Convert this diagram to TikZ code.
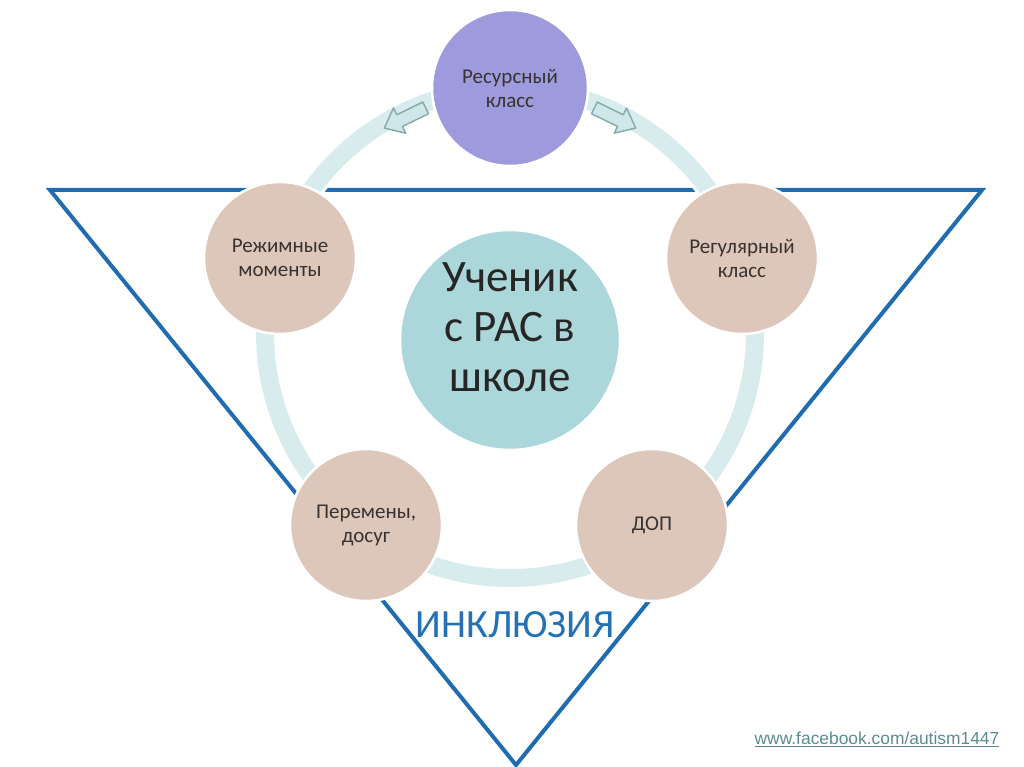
\documentclass[tikz,border=0pt]{standalone}
\usepackage{fontspec}
\setmainfont{Carlito}
\newfontfamily\urlfont{Liberation Sans}
\definecolor{triblue}{HTML}{1F6DB0}
\definecolor{ringc}{HTML}{D8ECEE}
\definecolor{beige}{HTML}{DCC7BA}
\definecolor{lilac}{HTML}{9D9BDD}
\definecolor{teal}{HTML}{ABD6DA}
\definecolor{txt}{HTML}{3A3230}
\definecolor{inkl}{HTML}{2471B5}
\definecolor{arrfill}{HTML}{CFE7E9}
\definecolor{arrline}{HTML}{86ADAE}
\definecolor{urlc}{HTML}{5A8C8E}
\tikzset{
  tri/.style={draw=triblue, line width=4pt, line join=miter},
  ringhalo/.style={draw=white, line width=24pt},
  ringband/.style={draw=ringc, line width=18pt},
  bub/.style={circle, draw=white, line width=2.5pt, fill=beige, minimum size=152pt,
    inner sep=0pt, align=center, text=txt, font=\fontsize{21}{24}\selectfont},
  blockarrow/.style={fill=arrfill, draw=arrline, line width=1.5pt, line join=round}
}
\begin{document}
\begin{tikzpicture}[x=1pt,y=1pt]
\useasboundingbox (0,0) rectangle (1024,767);
\fill[white] (0,0) rectangle (1024,767);
% triangle
\coordinate (tl) at (50,577);
\coordinate (tr) at (982,577);
\coordinate (ap) at (516,2);
\draw[tri] (tl) -- (tr) -- (ap) -- cycle;
% ring
\coordinate (rc) at (510,434);
\draw[ringhalo] (rc) circle[radius=245];
\draw[ringband] (rc) circle[radius=245];
% block arrows
\begin{scope}[shift={(405,649)}, rotate=206]
  \draw[blockarrow] (-23,-6.5) -- (6,-6.5) -- (6,-14) -- (23,0) -- (6,14) -- (6,6.5) -- (-23,6.5) -- cycle;
\end{scope}
\begin{scope}[shift={(615,649)}, rotate=-26]
  \draw[blockarrow] (-23,-6.5) -- (6,-6.5) -- (6,-14) -- (23,0) -- (6,14) -- (6,6.5) -- (-23,6.5) -- cycle;
\end{scope}
% nodes
\node[bub, fill=lilac, minimum size=156pt] (res) at (510,679) {Ресурсный\\класс};
\node[bub] (rez) at (280,509) {Режимные\\моменты};
\node[bub] (reg) at (742,509) {Регулярный\\класс};
\node[bub] (per) at (366,242) {Перемены,\\досуг};
\node[bub] (dop) at (652,242) {ДОП};
\node[circle, fill=teal, draw=white, line width=2.5pt, minimum size=220pt, inner sep=0pt,
  text=black!85, font=\fontsize{45}{50}\selectfont] (uch) at (510,427)
  {\raisebox{8pt}[\height][\depth]{\begin{tabular}{@{}c@{}}Ученик\\с РАС в\\школе\end{tabular}}};
% label
\node[text=inkl, font=\fontsize{40}{40}\selectfont, inner sep=0pt] (inc) at (515,142) {ИНКЛЮЗИЯ};
\node[text=urlc, font=\urlfont\fontsize{17.4}{20}\selectfont, inner sep=0pt] (url) at (877,28) {\underline{www.facebook.com/autism1447}};
\end{tikzpicture}
\end{document}
